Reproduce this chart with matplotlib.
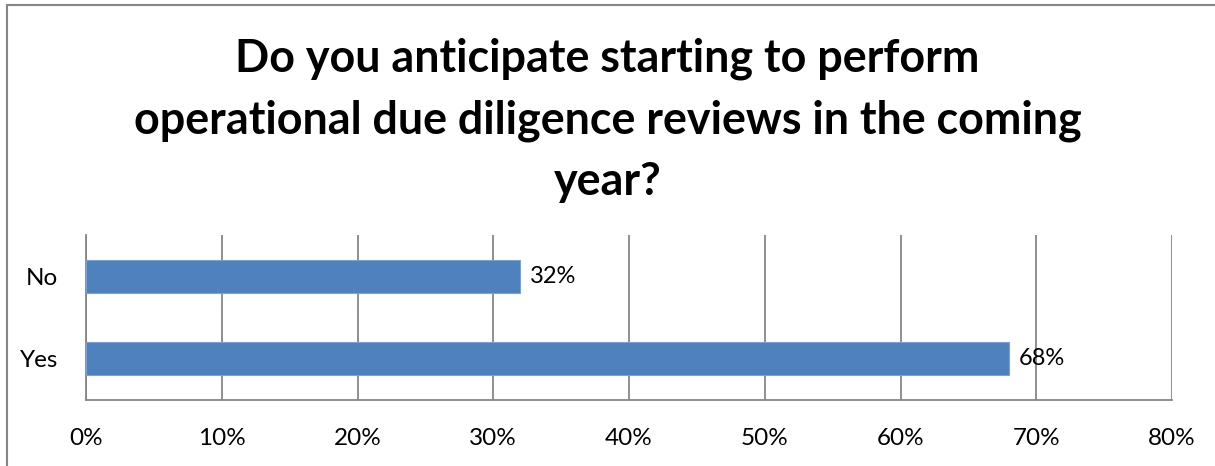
import matplotlib.pyplot as plt
from matplotlib.patches import Rectangle

# data
categories = ['Yes', 'No']
values = [68, 32]
ticks = [0, 10, 20, 30, 40, 50, 60, 70, 80]
title = 'Do you anticipate starting to perform\noperational due diligence reviews in the coming\nyear?'

plt.rcParams['font.family'] = ['Lato', 'DejaVu Sans']

fig = plt.figure(figsize=(12.15, 4.66), dpi=100)
ax = fig.add_axes([86/1215, 66/466, (1172-86)/1215, (400-235)/466])

ax.barh(categories, values, height=0.4, color='#4F81BD', edgecolor='#7DA1D0', linewidth=0.8, zorder=3)
for i, v in enumerate(values):
    ax.text(v + 0.7, i, '%d%%' % v, va='center', ha='left', fontsize=17, zorder=4)

ax.set_xlim(0, 80)
ax.set_ylim(-0.5, 1.5)
ax.set_xticks(ticks)
ax.set_xticklabels(['%d%%' % t for t in ticks], fontsize=17.5)
ax.tick_params(axis='x', length=0, pad=20)
ax.tick_params(axis='y', length=0, pad=20, labelsize=17.5)
ax.grid(axis='x', color='#868686', linewidth=1.3, zorder=0)
for s in ['top', 'right']:
    ax.spines[s].set_visible(False)
for s in ['left', 'bottom']:
    ax.spines[s].set_color('#868686')
    ax.spines[s].set_linewidth(1.3)

fig.text(0.5, 1 - 120/466, title, ha='center', va='center', fontsize=32.3,
         fontweight='bold', linespacing=1.56)

# outer chart frame
fig.patches.append(Rectangle((7/1215, -0.1), 1.2, (466-5)/466 + 0.1, transform=fig.transFigure,
                             fill=False, edgecolor='#868686', linewidth=1.5))

fig.savefig('out.png', dpi=100)
